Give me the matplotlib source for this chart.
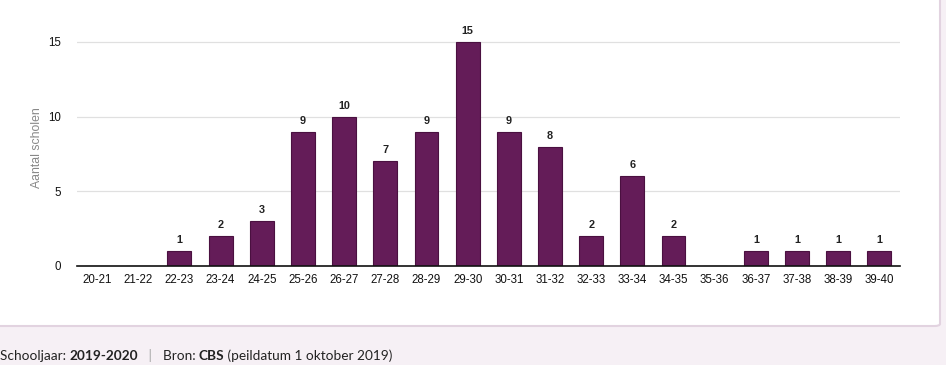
import matplotlib
matplotlib.use("Agg")
import matplotlib.pyplot as plt
from matplotlib.patches import FancyBboxPatch

categories = ["20-21", "21-22", "22-23", "23-24", "24-25", "25-26", "26-27", "27-28", "28-29", "29-30",
              "30-31", "31-32", "32-33", "33-34", "34-35", "35-36", "36-37", "37-38", "38-39", "39-40"]
values = [0, 0, 1, 2, 3, 9, 10, 7, 9, 15, 9, 8, 2, 6, 2, 0, 1, 1, 1, 1]
yticks = [0, 5, 10, 15]

W, H = 946, 365
fig = plt.figure(figsize=(W / 100, H / 100), dpi=100)
fig.patch.set_facecolor("#f6f0f5")

card = FancyBboxPatch((-10 / W, (H - 326) / H), 950 / W, (326 + 20) / H, transform=fig.transFigure,
                      boxstyle="round,pad=0,rounding_size=0.006", facecolor="white",
                      edgecolor="#e2d3e0", linewidth=1.5, zorder=-5)
fig.patches.append(card)

ax = fig.add_axes([76.5 / W, (H - 266) / H, (900 - 76.5) / W, (266 - 20) / H])
ax.set_zorder(2)
ax.set_facecolor("none")
x = list(range(len(categories)))
ax.bar(x, values, width=0.58, color="#641c58", edgecolor="#4a1040", linewidth=0.8, zorder=3)
for xi, v in zip(x, values):
    if v > 0:
        ax.text(xi, v + 0.4, str(v), ha="center", va="bottom", fontsize=7.8, fontweight="bold",
                family="Liberation Sans", color="#222222")

ax.set_xlim(-0.5, len(categories) - 0.5)
ax.set_ylim(0, 15 + 22 * 15 / 224)
ax.set_yticks(yticks)
ax.set_xticks(x)
ax.set_xticklabels(categories, fontsize=8.3, family="Liberation Sans", color="#111111")
ax.set_yticklabels([str(t) for t in yticks], fontsize=8.3, family="Liberation Sans", color="#111111")
ax.tick_params(axis="both", length=0)
ax.tick_params(axis="x", pad=6)
ax.tick_params(axis="y", pad=11)
ax.grid(axis="y", color="#e0e0e0", linewidth=0.9, zorder=0)
for s in ["top", "right", "left"]:
    ax.spines[s].set_visible(False)
ax.spines["bottom"].set_color("#111111")
ax.spines["bottom"].set_linewidth(1.2)
ax.spines["bottom"].set_zorder(4)
ax.set_ylabel("Aantal scholen", fontsize=8.8, color="#888888", family="Liberation Sans", labelpad=4)
ax.yaxis.label.set_y(0.48)

parts = [("Schooljaar: ", "normal", "#222222"), ("2019-2020", "bold", "#222222"),
         ("   |   ", "normal", "#aaaaaa"), ("Bron: ", "normal", "#222222"),
         ("CBS", "bold", "#222222"), (" (peildatum 1 oktober 2019)", "normal", "#222222")]
fig.canvas.draw()
renderer = fig.canvas.get_renderer()
xpos = 0.0
for txt, wt, col in parts:
    t = fig.text(xpos / W, 9 / H, txt, fontsize=9.8, fontweight=wt, family="Lato", color=col,
                 va="center", ha="left")
    bb = t.get_window_extent(renderer=renderer)
    xpos += bb.width

fig.savefig("out.png", dpi=100, facecolor=fig.get_facecolor())
